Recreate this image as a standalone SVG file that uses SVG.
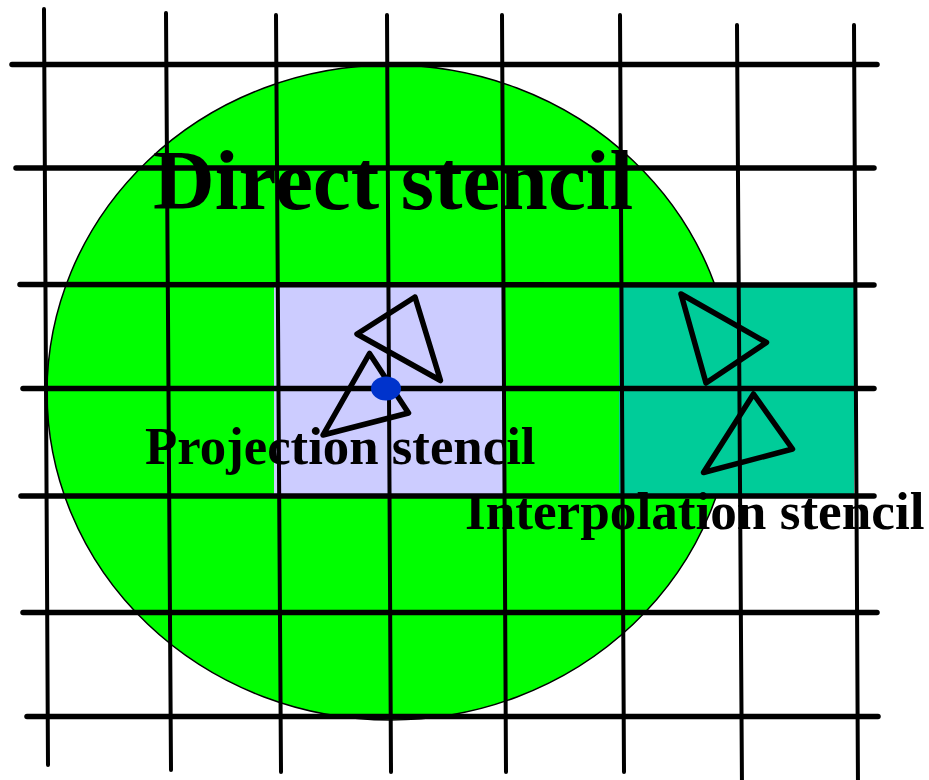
<svg xmlns="http://www.w3.org/2000/svg" width="929" height="780" viewBox="0 0 929 780">
<style>
.v{stroke:#000;stroke-width:4;stroke-linecap:round;fill:none}
.h{stroke:#000;stroke-width:5.5;stroke-linecap:round;fill:none}
.tri{fill:none;stroke:#000;stroke-width:5.5;stroke-linejoin:round;stroke-linecap:round}
.lbl{font-family:"Liberation Serif","Times New Roman",serif;font-weight:bold;fill:#000}
</style>
<g id="direct-stencil">
<ellipse cx="390.5" cy="392.5" rx="343.5" ry="327.5" fill="#00FF00" stroke="#000" stroke-width="1.5"/>
</g>
<g id="projection-stencil">
<rect x="274" y="285" width="230" height="211" fill="#CCCCFF"/>
</g>
<g id="interpolation-stencil">
<rect x="619" y="285" width="235" height="211" fill="#00CC99"/>
</g>
<g id="grid">
<line class="v" x1="44" y1="9" x2="48" y2="765"/>
<line class="v" x1="166" y1="13" x2="171" y2="770"/>
<line class="v" x1="276" y1="15" x2="281" y2="772"/>
<line class="v" x1="387" y1="15" x2="391" y2="772"/>
<line class="v" x1="502" y1="15" x2="506" y2="772"/>
<line class="v" x1="620" y1="15" x2="624" y2="772"/>
<line class="v" x1="737" y1="25" x2="742" y2="790"/>
<line class="v" x1="854" y1="25" x2="858" y2="790"/>
<line class="h" x1="12" y1="64.5" x2="877" y2="64.5"/>
<line class="h" x1="16" y1="168" x2="874" y2="168"/>
<line class="h" x1="20" y1="284.5" x2="874" y2="285"/>
<line class="h" x1="23" y1="388.5" x2="874" y2="388.5"/>
<line class="h" x1="21" y1="496" x2="874" y2="496"/>
<line class="h" x1="23" y1="612.5" x2="877" y2="612.5"/>
<line class="h" x1="27" y1="716.5" x2="878" y2="716.5"/>
</g>
<g id="triangles">
<polygon class="tri" points="415,297 357,334 440.5,380.5"/>
<polygon class="tri" points="369.5,353.5 408.5,413 323,435"/>
<polygon class="tri" points="681,294 766.5,342.5 706,383"/>
<polygon class="tri" points="753.5,394 792.5,449 703.5,472.5"/>
</g>
<g id="point">
<ellipse cx="386" cy="388.5" rx="15" ry="12" fill="#0033CC"/>
</g>
<g id="labels">
<text class="lbl" x="153" y="208.5" font-size="85.5">Direct stencil</text>
<text class="lbl" x="145" y="464" font-size="52.8">Projection stencil</text>
<text class="lbl" x="465" y="528.5" font-size="53.2">Interpolation stencil</text>
</g>
</svg>
